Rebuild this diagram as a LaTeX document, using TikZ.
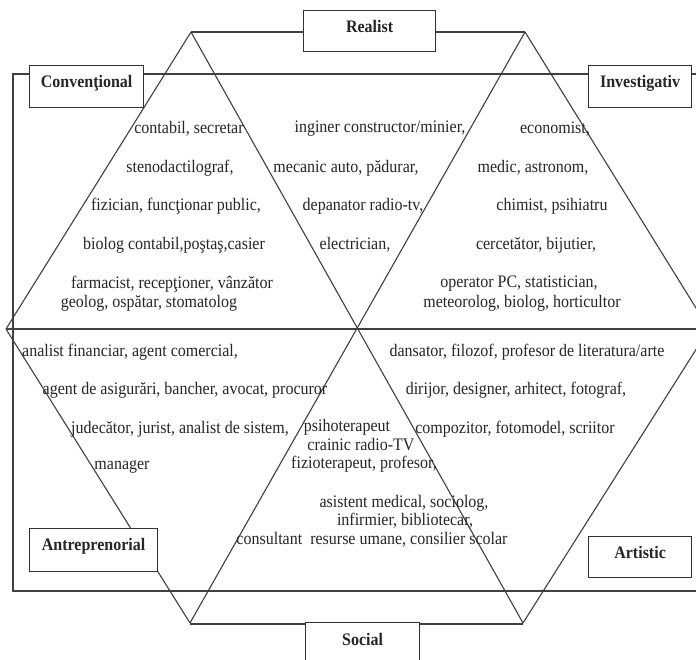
\documentclass[tikz,border=0pt]{standalone}
\usepackage{fontspec}
\setmainfont{Liberation Serif}
\newcommand{\vst}[1]{\scalebox{1}[1.1]{#1}}
\begin{document}
\begin{tikzpicture}[x=1pt,y=-1pt,
  edge/.style={draw=black!75, line width=1.1pt},
  frame/.style={draw=black!75, line width=1.3pt},
  lab/.style={font=\fontsize{16}{17}\selectfont, text=black!85, inner sep=0pt},
  typebox/.style={draw=black!80, line width=1.2pt, fill=white, inner sep=0pt,
    font=\fontsize{16}{17}\selectfont\bfseries, text=black!85, anchor=north west,
    text height=22pt, text depth=20pt}
]
\useasboundingbox (0,0) rectangle (696,660);
\clip (0,0) rectangle (696,660);
\fill[white] (0,0) rectangle (696,660);

% vertices of the figure
\coordinate (A) at (191,32);
\coordinate (B) at (525,32);
\coordinate (L) at (6,329);
\coordinate (R) at (709,329);
\coordinate (C) at (190,623);
\coordinate (D) at (523,623);
% outer frame corners
\coordinate (ftr) at (720,74);
\coordinate (ftl) at (13,74);
\coordinate (fbl) at (13,591);
\coordinate (fbr) at (720,591);

% frame
\draw[frame] (ftr) -- (ftl) -- (fbl) -- (fbr);

% triangles
\draw[edge] (A) -- (L);
\draw[edge] (A) -- (D);
\draw[edge] (B) -- (C);
\draw[edge] (B) -- (R);
\draw[edge] (L) -- (C);
\draw[edge] (R) -- (D);
\draw[edge] (L) -- (R);

% boxes
\node[typebox, minimum width=132pt, text height=22pt, text depth=19pt] (realist) at (303,10) {\vst{Realist}};
\node[typebox, minimum width=114pt] (conv) at (29,65) {\vst{Convenţional}};
\node[typebox, minimum width=103pt] (invest) at (588,65) {\vst{Investigativ}};
\node[typebox, minimum width=128pt, text depth=21pt] (antre) at (29,528) {\vst{Antreprenorial}};
\node[typebox, minimum width=103pt, text depth=19pt] (artist) at (588,536) {\vst{Artistic}};
\node[typebox, minimum width=114pt, text height=23pt, text depth=30pt] (social) at (305,622) {\vst{Social}};

% connectors to boxes
\draw[edge] (A) -- (A -| realist.west);
\draw[edge] (B) -- (B -| realist.east);
\coordinate (Cs) at (190,624);
\coordinate (Ds) at (523,624);
\draw[edge] (Cs) -- (Cs -| social.west);
\draw[edge] (Ds) -- (Ds -| social.east);

% Conventional
\node[lab] (c1) at (189,129) {\vst{contabil, secretar}};
\node[lab] (c2) at (180,168) {\vst{stenodactilograf,}};
\node[lab] (c3) at (176,206) {\vst{fizician, funcţionar public,}};
\node[lab] (c4) at (174,245) {\vst{biolog contabil,poştaş,casier}};
\node[lab] (c5) at (172,284) {\vst{farmacist, recepţioner, vânzător}};
\node[lab] (c6) at (149,303) {\vst{geolog, ospătar, stomatolog}};
% Realist
\node[lab] (r1) at (380,129) {\vst{inginer constructor/minier,}};
\node[lab] (r2) at (346,168) {\vst{mecanic auto, pădurar,}};
\node[lab] (r3) at (363,206) {\vst{depanator radio-tv,}};
\node[lab] (r4) at (355,245) {\vst{electrician,}};
% Investigativ
\node[lab] (i1) at (555,129) {\vst{economist,}};
\node[lab] (i2) at (533,168) {\vst{medic, astronom,}};
\node[lab] (i3) at (552,206) {\vst{chimist, psihiatru}};
\node[lab] (i4) at (536,245) {\vst{cercetător, bijutier,}};
\node[lab] (i5) at (519,284) {\vst{operator PC, statistician,}};
\node[lab] (i6) at (522,303) {\vst{meteorolog, biolog, horticultor}};
% Antreprenorial
\node[lab] (a1) at (130,352) {\vst{analist financiar, agent comercial,}};
\node[lab] (a2) at (185,390) {\vst{agent de asigurări, bancher, avocat, procuror}};
\node[lab] (a3) at (180,429) {\vst{judecător, jurist, analist de sistem,}};
\node[lab] (a4) at (122,467) {\vst{manager}};
% Social
\node[lab] (s1) at (347,427) {\vst{psihoterapeut}};
\node[lab] (s2) at (361,445) {\vst{crainic radio-TV}};
\node[lab] (s3) at (364,464) {\vst{fizioterapeut, profesor,}};
\node[lab] (s4) at (404,503) {\vst{asistent medical, sociolog,}};
\node[lab] (s5) at (405,521) {\vst{infirmier, bibliotecar,}};
\node[lab] (s6) at (372,540) {\vst{consultant\ \ resurse umane, consilier scolar}};
% Artistic
\node[lab] (t1) at (527,352) {\vst{dansator, filozof, profesor de literatura/arte}};
\node[lab] (t2) at (516,390) {\vst{dirijor, designer, arhitect, fotograf,}};
\node[lab] (t3) at (515,429) {\vst{compozitor, fotomodel, scriitor}};
\end{tikzpicture}
\end{document}
